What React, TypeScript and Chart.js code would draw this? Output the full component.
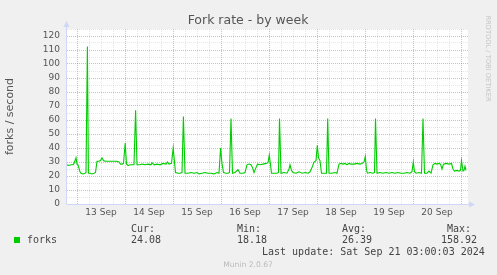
import React, { useEffect, useRef } from 'react';
import { Chart, registerables } from 'chart.js';

Chart.register(...registerables);

// ---- data ----
const dayLabels = ['13 Sep', '14 Sep', '15 Sep', '16 Sep', '17 Sep', '18 Sep', '19 Sep', '20 Sep'];
// hours after 13 Sep 00:00 -> forks / second
const forkSeries: [number, number][] = [
  [-5, 28], [-4, 27.5], [-3, 28], [-2, 28], [-1.5, 29], [-0.5, 33], [0, 28.5], [0.5, 28],
  [1.5, 23], [2, 22], [3, 21.5], [4, 22], [4.5, 22.5], [5.2, 112.5], [5.7, 22], [6.5, 22],
  [7.5, 21.5], [8.5, 22], [9.25, 22.5], [10, 30.5], [11, 30.5], [11.75, 31], [12.5, 33],
  [13.25, 31], [14, 30.5], [15.5, 30.5], [17, 30.5], [18.5, 30.5], [20, 30.5], [21, 30],
  [21.75, 28.5], [22.5, 28.5], [23.25, 29], [24.1, 43.5], [24.75, 28.5], [25.5, 27.5],
  [26.5, 28], [27.5, 28], [28.5, 28], [29.3, 67], [30, 28], [31.5, 28], [32.5, 28.5],
  [34, 28], [35.5, 28.5], [37, 28], [37.5, 29.5], [38.5, 28], [40, 28.5], [41.5, 28],
  [43, 29], [44.5, 28.5], [45.25, 30], [46, 28.5], [47.25, 29], [48.1, 40], [48.75, 30],
  [49.25, 22.5], [50.5, 22], [51.5, 22], [52.5, 22.5], [53.2, 62.5], [54, 22], [55.5, 22],
  [57, 22.5], [58.5, 22], [60, 22.5], [61, 21.5], [62.5, 22], [64, 22.5], [65.5, 22],
  [67, 22], [68.5, 21.5], [70, 22.5], [71, 22], [71.8, 40], [72.5, 29], [73.25, 22.5],
  [74.5, 22], [75.5, 22], [76.25, 22.5], [77, 61], [77.75, 22], [79, 22.5], [80.5, 24.5],
  [81.5, 22], [83, 22], [84, 22.5], [85, 28], [86, 28.5], [87, 28], [87.75, 26],
  [88.5, 22.5], [89.5, 26], [90.25, 28.5], [91.5, 28], [93, 28.5], [94.5, 29], [95.5, 29.5],
  [96.15, 35], [96.75, 28], [97.25, 22], [98.5, 22], [100, 22], [100.75, 22.5],
  [101.25, 61], [102, 22], [103.5, 22.5], [105, 22], [106, 25], [106.5, 28], [107.25, 24],
  [108, 22.5], [109.5, 22], [111, 23], [112.5, 22], [114, 22.5], [115.5, 22], [116.5, 23],
  [117.5, 26], [118.5, 30], [119.5, 31], [120.15, 42], [120.75, 33], [121.5, 31],
  [122.25, 22], [123.5, 22], [124.75, 22], [125.35, 61], [126, 22], [127.5, 22],
  [129, 22.5], [130, 22], [131, 28.5], [132, 29], [133, 28.5], [134, 29], [135, 28],
  [136, 29], [137, 28.5], [138.5, 28.5], [140, 29], [141.5, 28.5], [142.5, 29], [143.5, 30],
  [144.15, 34], [144.75, 24], [145.25, 22], [146.5, 22.5], [148, 22], [148.75, 22.5],
  [149.25, 61], [150, 22], [151.5, 22.5], [153, 22], [154.5, 22.5], [156, 22], [157.5, 22.5],
  [159, 22], [160.5, 22.5], [162, 22], [163.5, 22], [165, 22.5], [166.5, 22], [167.5, 23],
  [168.15, 30], [168.75, 23], [169.5, 22], [171, 22.5], [172.25, 22], [173, 61],
  [173.75, 22], [175, 22], [176, 23.5], [177, 22], [178, 28], [179, 29], [180, 28.5],
  [181, 29], [181.75, 28.5], [182.5, 25], [183.25, 28.5], [184.5, 29], [186, 28.5],
  [187.25, 29], [188, 25], [188.75, 23.5], [190, 24], [191, 23.5], [191.75, 24],
  [192.25, 31], [193, 23.5], [193.5, 24], [194, 27], [194.5, 24],
];
const seriesName = 'forks';
const legendHeaders = ['Cur:', 'Min:', 'Avg:', 'Max:'];
const legendValues = ['24.08', '18.18', '26.39', '158.92'];
const titleText = 'Fork rate - by week';
const yAxisTitle = 'forks / second';
const lastUpdateText = 'Last update: Sat Sep 21 03:00:03 2024';
const footerText = 'Munin 2.0.67';
const watermarkText = 'RRDTOOL / TOBI OETIKER';

// ---- styling ----
const W = 497;
const H = 275;
const SANS = '"DejaVu Sans", sans-serif';
const MONO = '"DejaVu Sans Mono", monospace';
const FONT_COLOR = '#555555';
const AXIS = '#CFD6F8';
const GRID = 'rgba(143,143,143,0.22)';
const MGRID = 'rgba(224,80,80,0.45)';
const LINE = '#00CC00';

const gridHours: number[] = [];
for (let h = 0; h <= 192; h += 6) gridHours.push(h);
const yGrid: number[] = [];
for (let v = 0; v <= 125; v += 5) yGrid.push(v);

const muninPlugin = {
  id: 'muninDecor',
  beforeDraw(chart: any) {
    const { ctx, chartArea: a } = chart;
    ctx.save();
    ctx.fillStyle = '#F0F0F0';
    ctx.fillRect(0, 0, chart.width, chart.height);
    ctx.fillStyle = '#FFFFFF';
    ctx.fillRect(a.left, a.top, a.right - a.left, a.bottom - a.top);
    ctx.restore();
  },
  afterDraw(chart: any) {
    const { ctx, chartArea: a } = chart;
    ctx.save();
    // axes with arrows
    const ax = Math.round(a.left) - 0.5;
    const ay = Math.round(a.bottom) + 0.5;
    ctx.strokeStyle = AXIS;
    ctx.lineWidth = 1;
    ctx.beginPath();
    ctx.moveTo(ax, ay);
    ctx.lineTo(ax, a.top - 3);
    ctx.moveTo(ax, ay);
    ctx.lineTo(a.right + 3, ay);
    ctx.stroke();
    ctx.fillStyle = AXIS;
    ctx.beginPath();
    ctx.moveTo(ax, a.top - 8);
    ctx.lineTo(ax - 3, a.top - 2);
    ctx.lineTo(ax + 3, a.top - 2);
    ctx.closePath();
    ctx.fill();
    ctx.beginPath();
    ctx.moveTo(a.right + 7, ay);
    ctx.lineTo(a.right + 1, ay - 3);
    ctx.lineTo(a.right + 1, ay + 3);
    ctx.closePath();
    ctx.fill();

    // title
    ctx.fillStyle = FONT_COLOR;
    ctx.font = `12.5px ${SANS}`;
    ctx.textAlign = 'center';
    ctx.textBaseline = 'alphabetic';
    ctx.fillText(titleText, 248, 24);

    // legend
    ctx.font = `10px ${MONO}`;
    ctx.textAlign = 'left';
    ctx.fillStyle = '#444444';
    const headerX = [131, 237, 342, 447];
    const valueX = [131, 237, 342, 441];
    legendHeaders.forEach((t, i) => ctx.fillText(t, headerX[i], 231.5));
    legendValues.forEach((t, i) => ctx.fillText(t, valueX[i], 242.5));
    ctx.fillText(seriesName, 27, 242.5);
    ctx.fillText(lastUpdateText, 262, 254.5);
    ctx.fillStyle = LINE;
    ctx.fillRect(14, 237, 6, 6);

    // footer
    ctx.fillStyle = '#BBBBBB';
    ctx.font = `7.6px ${SANS}`;
    ctx.textAlign = 'center';
    ctx.fillText(footerText, 248, 267);

    // watermark
    ctx.save();
    ctx.translate(487.5, 58.5);
    ctx.rotate(Math.PI / 2);
    ctx.font = `6.7px ${SANS}`;
    ctx.fillStyle = '#C4C4C4';
    ctx.textAlign = 'center';
    ctx.textBaseline = 'middle';
    ctx.fillText(watermarkText, 0, 0);
    ctx.restore();

    ctx.restore();
  },
};

export default function App() {
  const canvasRef = useRef<HTMLCanvasElement | null>(null);

  useEffect(() => {
    const canvas = canvasRef.current;
    if (!canvas) return;
    const chart = new Chart(canvas, {
      type: 'line',
      data: {
        datasets: [
          {
            label: seriesName,
            data: forkSeries.map(([x, y]) => ({ x, y })),
            borderColor: LINE,
            borderWidth: 1.1,
            pointRadius: 0,
            fill: false,
            tension: 0,
          },
        ],
      },
      options: {
        responsive: false,
        animation: false,
        events: [],
        devicePixelRatio: 1,
        layout: { padding: { left: 0, top: 29, right: W - 468, bottom: H - 204 - 20 } },
        plugins: {
          legend: { display: false },
          tooltip: { enabled: false },
          title: { display: false },
        },
        scales: {
          x: {
            type: 'linear',
            min: -5,
            max: 195.5,
            afterBuildTicks: (s: any) => {
              s.ticks = gridHours.map((v) => ({ value: v }));
            },
            afterFit: (s: any) => {
              s.height = 20;
            },
            grid: {
              drawTicks: false,
              lineWidth: 1,
              color: (c: any) => (c.tick && c.tick.value % 24 === 0 ? MGRID : GRID),
            },
            border: { display: false, dash: [1, 1] },
            ticks: {
              autoSkip: false,
              maxRotation: 0,
              minRotation: 0,
              padding: 3,
              color: FONT_COLOR,
              font: { family: SANS, size: 9 },
              callback: (value: any) => {
                const v = Number(value);
                if ((v - 12) % 24 === 0) return dayLabels[(v - 12) / 24] ?? '';
                return '';
              },
            },
          },
          y: {
            type: 'linear',
            min: 0,
            max: 125,
            afterBuildTicks: (s: any) => {
              s.ticks = yGrid.map((v) => ({ value: v }));
            },
            afterFit: (s: any) => {
              s.width = 67;
            },
            grid: {
              drawTicks: false,
              lineWidth: 1,
              color: (c: any) => (c.tick && c.tick.value % 10 === 0 ? MGRID : GRID),
            },
            border: { display: false, dash: [1, 1] },
            title: {
              display: true,
              text: yAxisTitle,
              color: FONT_COLOR,
              font: { family: SANS, size: 11 },
              padding: { top: 4, bottom: 0 },
            },
            ticks: {
              autoSkip: false,
              padding: 7,
              color: FONT_COLOR,
              font: { family: SANS, size: 9 },
              callback: (value: any) => {
                const v = Number(value);
                return v % 10 === 0 ? String(v) : '';
              },
            },
          },
        },
      },
      plugins: [muninPlugin],
    } as any);
    return () => chart.destroy();
  }, []);

  return (
    <div style={{ position: 'fixed', left: 0, top: 0, width: W, height: H, background: '#F0F0F0' }}>
      <canvas ref={canvasRef} width={W} height={H} style={{ display: 'block', width: W, height: H }} />
    </div>
  );
}
